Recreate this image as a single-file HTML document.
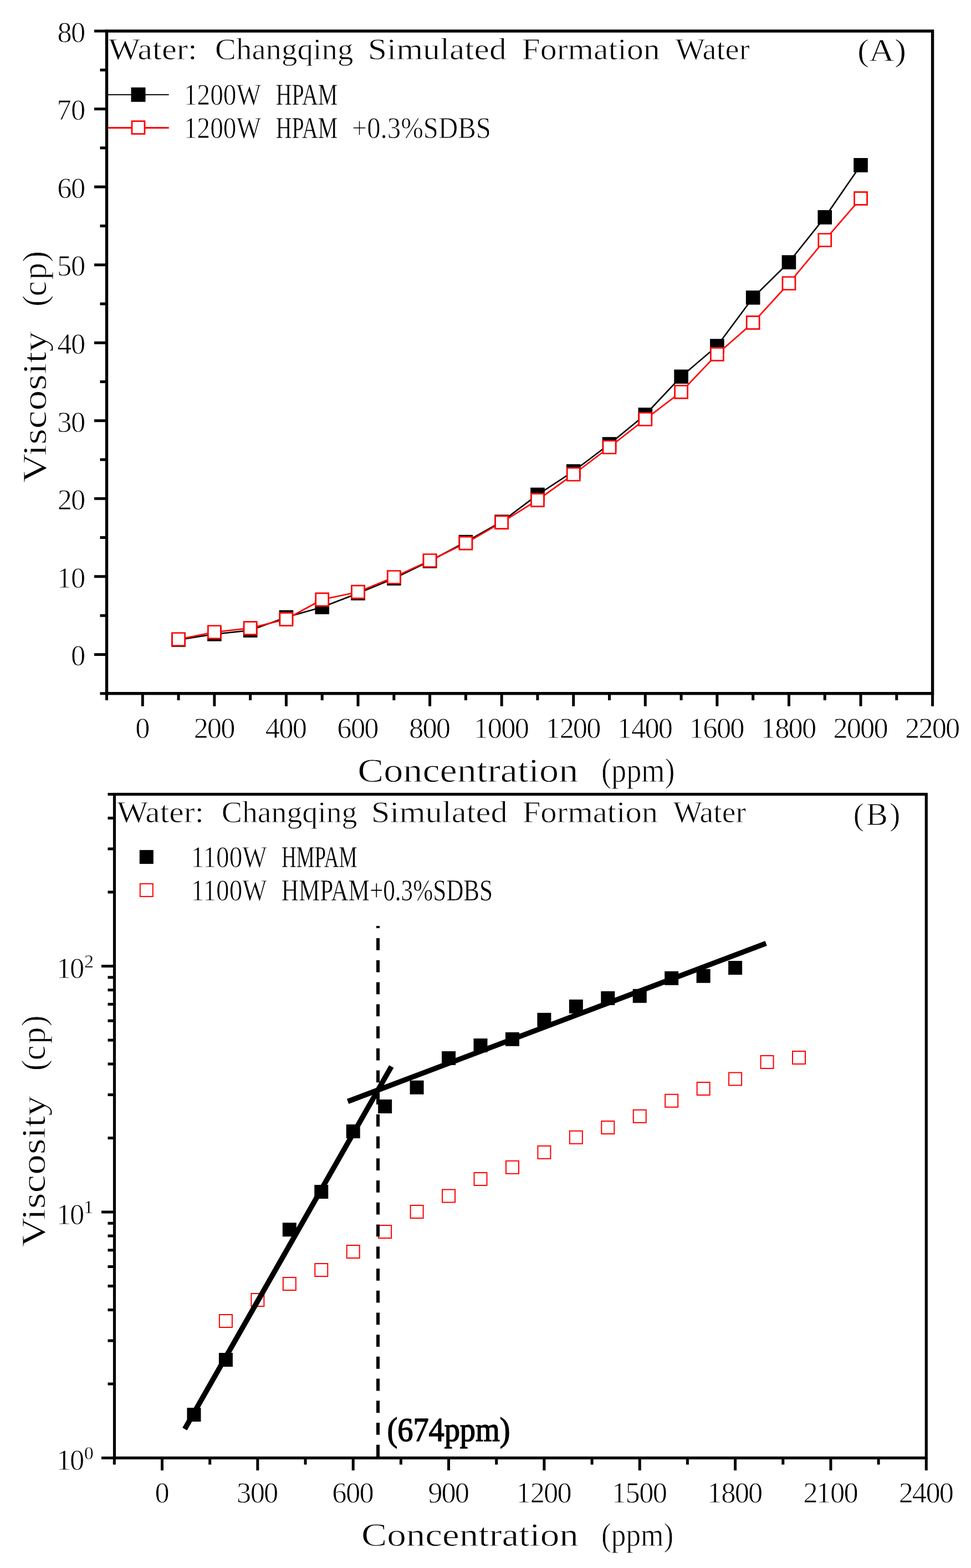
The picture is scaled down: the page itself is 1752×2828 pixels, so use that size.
<!DOCTYPE html>
<html><head><meta charset="utf-8">
<style>html,body{margin:0;padding:0;background:#fff;}svg{display:block;}</style></head>
<body><svg width="1752" height="2828" viewBox="0 0 1752 2828">
<rect width="1752" height="2828" fill="#fff"/>
<rect x="192.5" y="56" width="1490.1" height="1194.7" fill="none" stroke="#000" stroke-width="5.4"/>
<path d="M180.5 1250.7H192.5 M170 1180.42H192.5 M180.5 1110.15H192.5 M170 1039.87H192.5 M180.5 969.59H192.5 M170 899.32H192.5 M180.5 829.04H192.5 M170 758.76H192.5 M180.5 688.49H192.5 M170 618.21H192.5 M180.5 547.94H192.5 M170 477.66H192.5 M180.5 407.38H192.5 M170 337.11H192.5 M180.5 266.83H192.5 M170 196.55H192.5 M180.5 126.28H192.5 M170 56H192.5 M192.5 1250.7V1263 M257.29 1250.7V1273.7 M322.07 1250.7V1263 M386.86 1250.7V1273.7 M451.65 1250.7V1263 M516.43 1250.7V1273.7 M581.22 1250.7V1263 M646.01 1250.7V1273.7 M710.8 1250.7V1263 M775.58 1250.7V1273.7 M840.37 1250.7V1263 M905.16 1250.7V1273.7 M969.94 1250.7V1263 M1034.73 1250.7V1273.7 M1099.52 1250.7V1263 M1164.3 1250.7V1273.7 M1229.09 1250.7V1263 M1293.88 1250.7V1273.7 M1358.67 1250.7V1263 M1423.45 1250.7V1273.7 M1488.24 1250.7V1263 M1553.03 1250.7V1273.7 M1617.81 1250.7V1263 M1682.6 1250.7V1273.7" stroke="#000" stroke-width="5" fill="none"/>
<text font-family="'Liberation Serif', 'Times New Roman', serif" font-size="52.5" fill="#000" stroke="#fff" stroke-width="0.85"><tspan x="128.07" y="1200.22">0</tspan><tspan x="102.74 128.07" y="1059.67">10</tspan><tspan x="103.77 128.07" y="919.12">20</tspan><tspan x="103.24 128.07" y="778.56">30</tspan><tspan x="103.37 128.07" y="638.01">40</tspan><tspan x="102.98 128.07" y="497.46">50</tspan><tspan x="103.13 128.07" y="356.91">60</tspan><tspan x="102.5 128.07" y="216.35">70</tspan><tspan x="103.47 128.07" y="75.8">80</tspan><tspan x="244.16" y="1330.7">0</tspan><tspan x="349.63 373.74 398.14" y="1330.7">200</tspan><tspan x="478.81 503.31 527.71" y="1330.7">400</tspan><tspan x="608.14 632.88 657.28" y="1330.7">600</tspan><tspan x="738.06 762.46 786.86" y="1330.7">800</tspan><tspan x="854.7 879.83 904.23 928.63" y="1330.7">1000</tspan><tspan x="984.27 1009.7 1033.81 1058.21" y="1330.7">1200</tspan><tspan x="1113.85 1138.88 1163.38 1187.78" y="1330.7">1400</tspan><tspan x="1243.42 1268.21 1292.95 1317.35" y="1330.7">1600</tspan><tspan x="1373 1398.13 1422.53 1446.93" y="1330.7">1800</tspan><tspan x="1503.6 1527.7 1552.1 1576.5" y="1330.7">2000</tspan><tspan x="1633.17 1657.57 1681.67 1706.07" y="1330.7">2200</tspan></text>
<text font-family="'Liberation Serif', 'Times New Roman', serif" font-size="55" fill="#000" stroke="#fff" stroke-width="0.85"><tspan x="195.82" y="107" textLength="160.08" lengthAdjust="spacingAndGlyphs">Water:</tspan> <tspan x="388.14" y="107" textLength="249.29" lengthAdjust="spacingAndGlyphs">Changqing</tspan> <tspan x="663.7" y="107" textLength="250.17" lengthAdjust="spacingAndGlyphs">Simulated</tspan> <tspan x="941.54" y="107" textLength="249.17" lengthAdjust="spacingAndGlyphs">Formation</tspan> <tspan x="1218.51" y="107" textLength="134.04" lengthAdjust="spacingAndGlyphs">Water</tspan></text>
<text font-family="'Liberation Serif', 'Times New Roman', serif" font-size="57" fill="#000" stroke="#fff" stroke-width="0.85"><tspan x="1546.91" y="110" textLength="88.13" lengthAdjust="spacingAndGlyphs">(A)</tspan></text>
<text font-family="'Liberation Serif', 'Times New Roman', serif" font-size="61" fill="#000" stroke="#fff" stroke-width="0.85"><tspan x="645.34" y="1410" textLength="398.01" lengthAdjust="spacingAndGlyphs">Concentration</tspan> <tspan x="1085.04" y="1410" textLength="132.43" lengthAdjust="spacingAndGlyphs">(ppm)</tspan></text>
<text font-family="'Liberation Serif', 'Times New Roman', serif" font-size="61" transform="rotate(-90)" fill="#000" stroke="#fff" stroke-width="0.85"><tspan x="-870.84" y="83.1" textLength="273.15" lengthAdjust="spacingAndGlyphs">Viscosity</tspan> <tspan x="-553.01 -534.26 -504.55 -473.1" y="83.1">(cp)</tspan></text>
<polyline points="322.07,1154 386.86,1143.8 451.65,1136.9 516.43,1113.2 581.22,1095 646.01,1070 710.8,1043.3 775.58,1012 840.37,977.5 905.16,941 969.94,892.4 1034.73,850 1099.52,801 1164.3,748 1229.09,679.2 1293.88,624 1358.67,536.8 1423.45,473 1488.24,391.9 1553.03,297.9" fill="none" stroke="#000" stroke-width="2.6" stroke-linejoin="round"/>
<path d="M309.27 1141.2h25.6v25.6h-25.6z M374.06 1131h25.6v25.6h-25.6z M438.85 1124.1h25.6v25.6h-25.6z M503.63 1100.4h25.6v25.6h-25.6z M568.42 1082.2h25.6v25.6h-25.6z M633.21 1057.2h25.6v25.6h-25.6z M698 1030.5h25.6v25.6h-25.6z M762.78 999.2h25.6v25.6h-25.6z M827.57 964.7h25.6v25.6h-25.6z M892.36 928.2h25.6v25.6h-25.6z M957.14 879.6h25.6v25.6h-25.6z M1021.93 837.2h25.6v25.6h-25.6z M1086.72 788.2h25.6v25.6h-25.6z M1151.5 735.2h25.6v25.6h-25.6z M1216.29 666.4h25.6v25.6h-25.6z M1281.08 611.2h25.6v25.6h-25.6z M1345.87 524h25.6v25.6h-25.6z M1410.65 460.2h25.6v25.6h-25.6z M1475.44 379.1h25.6v25.6h-25.6z M1540.23 285.1h25.6v25.6h-25.6z" fill="#000"/>
<polyline points="322.07,1153 386.86,1140 451.65,1132.9 516.43,1116.8 581.22,1081.3 646.01,1067.7 710.8,1041 775.58,1011 840.37,979.6 905.16,942.1 969.94,901.9 1034.73,855.5 1099.52,806.5 1164.3,756 1229.09,706.9 1293.88,638.8 1358.67,581.9 1423.45,511 1488.24,433 1553.03,357.8" fill="none" stroke="#f00" stroke-width="2.7" stroke-linejoin="round"/>
<path d="M310.57 1141.5h23v23h-23z M375.36 1128.5h23v23h-23z M440.15 1121.4h23v23h-23z M504.93 1105.3h23v23h-23z M569.72 1069.8h23v23h-23z M634.51 1056.2h23v23h-23z M699.3 1029.5h23v23h-23z M764.08 999.5h23v23h-23z M828.87 968.1h23v23h-23z M893.66 930.6h23v23h-23z M958.44 890.4h23v23h-23z M1023.23 844h23v23h-23z M1088.02 795h23v23h-23z M1152.8 744.5h23v23h-23z M1217.59 695.4h23v23h-23z M1282.38 627.3h23v23h-23z M1347.17 570.4h23v23h-23z M1411.95 499.5h23v23h-23z M1476.74 421.5h23v23h-23z M1541.53 346.3h23v23h-23z" fill="#fff" stroke="#f00" stroke-width="2.7"/>
<path d="M195 170.75H304.7" stroke="#000" stroke-width="2.2"/>
<rect x="236.5" y="157.7" width="26" height="26" fill="#000"/>
<path d="M195 230.5H304.7" stroke="#f00" stroke-width="2.8"/>
<rect x="238" y="218.5" width="23" height="23" fill="#fff" stroke="#f00" stroke-width="2.7"/>
<text font-family="'Liberation Serif', 'Times New Roman', serif" font-size="55" fill="#000" stroke="#fff" stroke-width="0.85"><tspan x="331.89" y="189" textLength="138.33" lengthAdjust="spacingAndGlyphs">1200W</tspan> <tspan x="497.77" y="189" textLength="111.32" lengthAdjust="spacingAndGlyphs" stroke-width="0.43">HPAM</tspan></text>
<text font-family="'Liberation Serif', 'Times New Roman', serif" font-size="55" fill="#000" stroke="#fff" stroke-width="0.85"><tspan x="331.89" y="249" textLength="138.33" lengthAdjust="spacingAndGlyphs">1200W</tspan> <tspan x="497.77" y="249" textLength="111.32" lengthAdjust="spacingAndGlyphs" stroke-width="0.43">HPAM</tspan> <tspan x="634.7" y="249" textLength="251.12" lengthAdjust="spacingAndGlyphs">+0.3%SDBS</tspan></text>
<rect x="206.5" y="1432.5" width="1464.8" height="1197" fill="none" stroke="#000" stroke-width="5.2"/>
<path d="M183 2629.5H206.5 M194.5 2495.99H206.5 M194.5 2417.9H206.5 M194.5 2362.49H206.5 M194.5 2319.51H206.5 M194.5 2284.39H206.5 M194.5 2254.7H206.5 M194.5 2228.98H206.5 M194.5 2206.29H206.5 M183 2186H206.5 M194.5 2052.49H206.5 M194.5 1974.4H206.5 M194.5 1918.99H206.5 M194.5 1876.01H206.5 M194.5 1840.89H206.5 M194.5 1811.2H206.5 M194.5 1785.48H206.5 M194.5 1762.79H206.5 M183 1742.5H206.5 M194.5 1608.99H206.5 M194.5 1530.9H206.5 M194.5 1475.49H206.5 M194.5 1432.51H206.5 M206.32 2629.5V2641.5 M292.5 2629.5V2652 M378.68 2629.5V2641.5 M464.85 2629.5V2652 M551.02 2629.5V2641.5 M637.2 2629.5V2652 M723.38 2629.5V2641.5 M809.55 2629.5V2652 M895.73 2629.5V2641.5 M981.9 2629.5V2652 M1068.08 2629.5V2641.5 M1154.25 2629.5V2652 M1240.42 2629.5V2641.5 M1326.6 2629.5V2652 M1412.78 2629.5V2641.5 M1498.95 2629.5V2652 M1585.12 2629.5V2641.5 M1671.3 2629.5V2652" stroke="#000" stroke-width="5" fill="none"/>
<text font-family="'Liberation Serif', 'Times New Roman', serif" font-size="52.5" fill="#000" stroke="#fff" stroke-width="0.85"><tspan x="101.94 125.88" y="2651.2">10</tspan><tspan x="151.7" y="2631.6" font-size="34" stroke-width="0.35">0</tspan><tspan x="101.94 125.88" y="2207.7">10</tspan><tspan x="151.23" y="2188.1" font-size="34" stroke-width="0.35">1</tspan><tspan x="101.94 125.88" y="1764.2">10</tspan><tspan x="151.89" y="1744.6" font-size="34" stroke-width="0.35">2</tspan><tspan x="279.38" y="2709.7">0</tspan><tspan x="427.09 451.73 476.12" y="2709.7">300</tspan><tspan x="599.33 624.08 648.48" y="2709.7">600</tspan><tspan x="772.26 796.42 820.82" y="2709.7">900</tspan><tspan x="931.44 956.87 980.98 1005.38" y="2709.7">1200</tspan><tspan x="1103.79 1128.43 1153.33 1177.72" y="2709.7">1500</tspan><tspan x="1276.14 1301.27 1325.67 1350.07" y="2709.7">1800</tspan><tspan x="1449.52 1472.89 1498.03 1522.42" y="2709.7">2100</tspan><tspan x="1621.87 1645.87 1670.38 1694.77" y="2709.7">2400</tspan></text>
<text font-family="'Liberation Serif', 'Times New Roman', serif" font-size="55" fill="#000" stroke="#fff" stroke-width="0.85"><tspan x="210.98" y="1483" textLength="157.13" lengthAdjust="spacingAndGlyphs">Water:</tspan> <tspan x="399.68" y="1483" textLength="244.83" lengthAdjust="spacingAndGlyphs">Changqing</tspan> <tspan x="669.83" y="1483" textLength="245.93" lengthAdjust="spacingAndGlyphs">Simulated</tspan> <tspan x="942.67" y="1483" textLength="244.49" lengthAdjust="spacingAndGlyphs">Formation</tspan> <tspan x="1214.43" y="1483" textLength="131.52" lengthAdjust="spacingAndGlyphs">Water</tspan></text>
<text font-family="'Liberation Serif', 'Times New Roman', serif" font-size="57" fill="#000" stroke="#fff" stroke-width="0.85"><tspan x="1539.49 1562.72 1604.98" y="1487.5" textLength="78.2" lengthAdjust="spacingAndGlyphs">(B)</tspan></text>
<text font-family="'Liberation Serif', 'Times New Roman', serif" font-size="60" fill="#000" stroke="#fff" stroke-width="0.85"><tspan x="652" y="2788.4" textLength="391.87" lengthAdjust="spacingAndGlyphs">Concentration</tspan> <tspan x="1085.02" y="2788.4" textLength="130.21" lengthAdjust="spacingAndGlyphs">(ppm)</tspan></text>
<text font-family="'Liberation Serif', 'Times New Roman', serif" font-size="60.5" transform="rotate(-90)" fill="#000" stroke="#fff" stroke-width="0.85"><tspan x="-2249.04" y="80.6" textLength="273.15" lengthAdjust="spacingAndGlyphs">Viscosity</tspan> <tspan x="-1931.13 -1912.35 -1882.63 -1851.22" y="80.6">(cp)</tspan></text>
<rect x="251.8" y="1533.1" width="25" height="25" fill="#000"/>
<rect x="252.8" y="1593.9" width="23" height="23" fill="#fff" stroke="#f00" stroke-width="2"/>
<text font-family="'Liberation Serif', 'Times New Roman', serif" font-size="55" fill="#000" stroke="#fff" stroke-width="0.85"><tspan x="344.76" y="1563.7" textLength="136.1" lengthAdjust="spacingAndGlyphs">1100W</tspan> <tspan x="507.98" y="1563.7" textLength="136.45" lengthAdjust="spacingAndGlyphs" stroke-width="0.35">HMPAM</tspan></text>
<text font-family="'Liberation Serif', 'Times New Roman', serif" font-size="55" fill="#000" stroke="#fff" stroke-width="0.85"><tspan x="344.76" y="1624" textLength="136.1" lengthAdjust="spacingAndGlyphs">1100W</tspan> <tspan x="507.79" y="1624" textLength="381.34" lengthAdjust="spacingAndGlyphs" stroke-width="0.56">HMPAM+0.3%SDBS</tspan></text>
<path d="M337.45 2539.1h25v25h-25z M394.9 2440.1h25v25h-25z M509.8 2205.2h25v25h-25z M567.25 2136.9h25v25h-25z M624.7 2027.9h25v25h-25z M682.15 1983h25v25h-25z M739.6 1948.8h25v25h-25z M797.05 1896.1h25v25h-25z M854.5 1873h25v25h-25z M911.95 1861.7h25v25h-25z M969.4 1826.8h25v25h-25z M1026.85 1802.8h25v25h-25z M1084.3 1787.8h25v25h-25z M1141.75 1783.8h25v25h-25z M1199.2 1751.8h25v25h-25z M1256.65 1747.8h25v25h-25z M1314.1 1732.9h25v25h-25z" fill="#000"/>
<path d="M395.9 2371h23v23h-23z M453.35 2332.9h23v23h-23z M510.8 2304h23v23h-23z M568.25 2278.9h23v23h-23z M625.7 2246.1h23v23h-23z M683.15 2209.9h23v23h-23z M740.6 2174.1h23v23h-23z M798.05 2145.5h23v23h-23z M855.5 2115h23v23h-23z M912.95 2093.8h23v23h-23z M970.4 2066.8h23v23h-23z M1027.85 2039.8h23v23h-23z M1085.3 2021.9h23v23h-23z M1142.75 2001.8h23v23h-23z M1200.2 1973.8h23v23h-23z M1257.65 1951.9h23v23h-23z M1315.1 1934.5h23v23h-23z M1372.55 1904h23v23h-23z M1430 1896h23v23h-23z" fill="#fff" stroke="#f00" stroke-width="2"/>
<path d="M333.3 2577.4L706.2 1923.5M627.6 1986.5L1382.2 1701.4" stroke="#000" stroke-width="9.5" fill="none"/>
<path d="M682 1670V2629.5" stroke="#000" stroke-width="6" stroke-dasharray="21.8 17.93" stroke-dashoffset="17.73"/>
<text font-family="'Liberation Serif', 'Times New Roman', serif" font-size="61" fill="#000" stroke="#000" stroke-width="1.5"><tspan x="698.59" y="2599" textLength="221.91" lengthAdjust="spacingAndGlyphs">(674ppm)</tspan></text>
</svg></body></html>
